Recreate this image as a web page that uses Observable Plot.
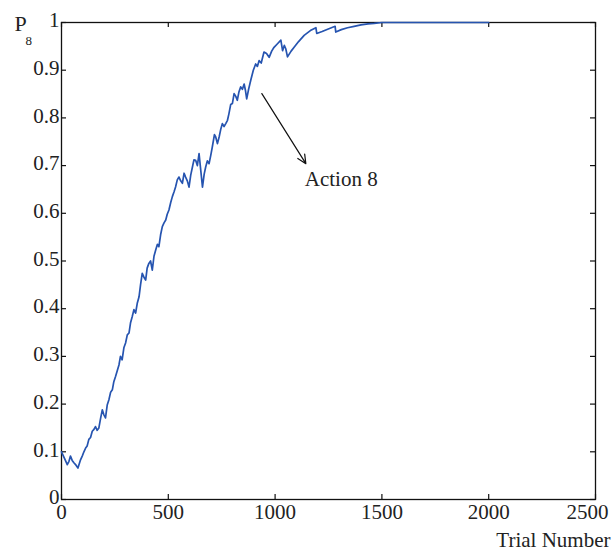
<!DOCTYPE html>
<html>
<head>
<meta charset="utf-8">
<script src="https://cdn.jsdelivr.net/npm/d3@7"></script>
<script src="https://cdn.jsdelivr.net/npm/@observablehq/plot@0.6"></script>
<style>
  body { margin: 0; background: #fff; }
  #chart svg { font-family: "Liberation Serif", "Times New Roman", serif; }
</style>
</head>
<body>
<div id="chart"></div>
<script>
// Trial numbers and probability of action 8
const trial = [0, 15, 27, 35, 42, 50, 58, 68, 77, 88, 97, 105, 113, 120, 128, 136, 144, 152, 159, 167, 175, 183, 191, 198, 206, 214, 222, 230, 238, 245, 253, 261, 269, 276, 284, 292, 300, 308, 316, 323, 331, 339, 347, 355, 363, 370, 378, 386, 394, 401, 409, 417, 425, 433, 441, 449, 456, 464, 472, 480, 488, 495, 503, 511, 519, 527, 534, 542, 550, 558, 566, 574, 581, 589, 597, 605, 613, 620, 628, 636, 644, 652, 660, 668, 675, 683, 691, 699, 706, 716, 722, 730, 738, 745, 753, 761, 769, 777, 784, 792, 800, 808, 816, 823, 831, 839, 847, 855, 861, 867, 876, 886, 898, 909, 917, 925, 935, 948, 960, 972, 984, 995, 1010, 1027, 1035, 1043, 1050, 1058, 1075, 1089, 1110, 1136, 1165, 1191, 1195, 1220, 1246, 1281, 1284, 1310, 1339, 1370, 1402, 1435, 1464, 1500, 1750, 2000];
const p8 = [0.100, 0.085, 0.073, 0.080, 0.091, 0.082, 0.077, 0.072, 0.066, 0.082, 0.091, 0.100, 0.108, 0.112, 0.126, 0.130, 0.143, 0.147, 0.153, 0.145, 0.150, 0.170, 0.188, 0.178, 0.171, 0.198, 0.209, 0.225, 0.230, 0.247, 0.258, 0.270, 0.282, 0.300, 0.293, 0.318, 0.328, 0.345, 0.349, 0.370, 0.383, 0.398, 0.391, 0.412, 0.425, 0.450, 0.474, 0.466, 0.460, 0.485, 0.495, 0.500, 0.481, 0.510, 0.523, 0.535, 0.530, 0.555, 0.572, 0.580, 0.586, 0.598, 0.607, 0.622, 0.635, 0.645, 0.655, 0.670, 0.676, 0.668, 0.663, 0.684, 0.676, 0.668, 0.655, 0.680, 0.697, 0.712, 0.711, 0.700, 0.725, 0.690, 0.655, 0.682, 0.697, 0.710, 0.704, 0.722, 0.739, 0.765, 0.760, 0.746, 0.760, 0.775, 0.788, 0.782, 0.788, 0.795, 0.809, 0.828, 0.830, 0.851, 0.845, 0.837, 0.855, 0.865, 0.860, 0.871, 0.858, 0.840, 0.860, 0.879, 0.900, 0.913, 0.908, 0.920, 0.915, 0.938, 0.935, 0.927, 0.940, 0.948, 0.955, 0.963, 0.941, 0.952, 0.945, 0.928, 0.940, 0.948, 0.960, 0.973, 0.983, 0.989, 0.977, 0.981, 0.986, 0.992, 0.980, 0.985, 0.989, 0.992, 0.995, 0.997, 0.998, 1.000, 1.000, 1.000];

const xTicks = [0, 500, 1000, 1500, 2000, 2500];
const yTicks = [0, 0.1, 0.2, 0.3, 0.4, 0.5, 0.6, 0.7, 0.8, 0.9, 1];

// Annotation: arrow start/end and label
const noteText = ["Action 8"];
const arrowFrom = [{x: 938, y: 0.851}];
const arrowTo = [{x: 1144, y: 0.704}];
const notePos = [{x: 1139, y: 0.672}];

const series = trial.map((t, i) => ({trial: t, p: p8[i]}));

const fs = 21;
const frameH = 499 - 22;
const frameW = 595 - 61;
const tl = 5; // tick length in px (inward)
const ink = "#111";
const chart = Plot.plot({
  width: 615,
  height: 552,
  marginLeft: 61,
  marginRight: 20,
  marginTop: 22,
  marginBottom: 53,
  style: {fontFamily: "'Liberation Serif', 'Times New Roman', serif", fontSize: fs + "px", color: "#222"},
  x: {domain: [0, 2500], label: null},
  y: {domain: [0, 1], label: null},
  marks: [
    // inward ticks on all four sides
    Plot.tickX(xTicks, {x: d => d, insetTop: frameH - tl, stroke: ink, strokeWidth: 1.2}),
    Plot.tickX(xTicks, {x: d => d, insetBottom: frameH - tl, stroke: ink, strokeWidth: 1.2}),
    Plot.tickY(yTicks, {y: d => d, insetRight: frameW - tl, stroke: ink, strokeWidth: 1.2}),
    Plot.tickY(yTicks, {y: d => d, insetLeft: frameW - tl, stroke: ink, strokeWidth: 1.2}),
    Plot.frame({stroke: ink, strokeWidth: 1.3}),
    Plot.axisX({anchor: "bottom", ticks: xTicks.slice(0, -1), tickSize: 0, tickPadding: 5, tickFormat: d => String(d), label: null, fontSize: fs}),
    Plot.axisX({anchor: "bottom", ticks: xTicks.slice(-1), tickSize: 0, tickPadding: 5, dx: -8, tickFormat: d => String(d), label: null, fontSize: fs}),
    Plot.axisY({anchor: "left", ticks: yTicks, tickSize: 0, tickPadding: 2, dy: -2, tickFormat: d => String(d), label: null, fontSize: fs}),
    Plot.line(series, {x: "trial", y: "p", stroke: "#2654b0", strokeWidth: 1.7, strokeLinejoin: "round"}),
    Plot.arrow(arrowFrom.map((a, i) => ({x1: a.x, y1: a.y, x2: arrowTo[i].x, y2: arrowTo[i].y})), {x1: "x1", y1: "y1", x2: "x2", y2: "y2", stroke: ink, strokeWidth: 1.2, headLength: 12, headAngle: 50}),
    Plot.text(notePos.map((d, i) => ({...d, t: noteText[i]})), {x: "x", y: "y", text: "t", textAnchor: "start", fontSize: fs, fill: "#222"}),
    Plot.text(["P"], {frameAnchor: "top-left", lineAnchor: "middle", dx: -47, dy: 1.5, textAnchor: "start", fontSize: 22, fill: "#222"}),
    Plot.text(["8"], {frameAnchor: "top-left", lineAnchor: "middle", dx: -36, dy: 18, textAnchor: "start", fontSize: 13, fill: "#222"}),
    Plot.text(["Trial Number"], {frameAnchor: "bottom-right", lineAnchor: "bottom", dx: 15, dy: 47, textAnchor: "end", fontSize: fs, fill: "#222"})
  ]
});
document.getElementById("chart").appendChild(chart);
</script>
</body>
</html>
